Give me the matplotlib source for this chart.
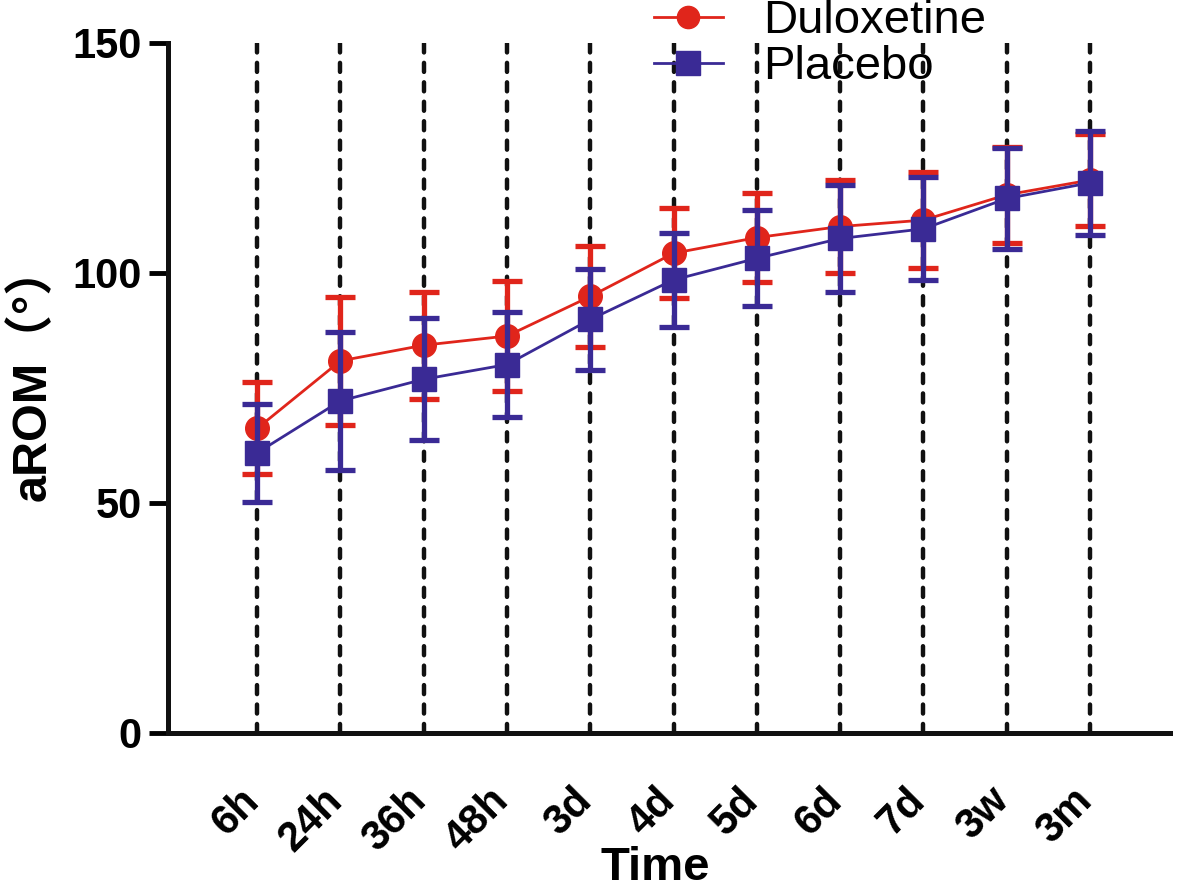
import matplotlib
matplotlib.use("Agg")
import matplotlib.pyplot as plt
from matplotlib.lines import Line2D
from matplotlib.transforms import ScaledTranslation
import numpy as np

plt.rcParams['font.family'] = ['Liberation Sans', 'Noto Sans CJK SC', 'DejaVu Sans']
plt.rcParams['lines.scale_dashes'] = False

time_labels = ["6h", "24h", "36h", "48h", "3d", "4d", "5d", "6d", "7d", "3w", "3m"]
dul_mean = [66.2, 80.9, 84.3, 86.3, 94.9, 104.3, 107.7, 110.1, 111.5, 117.0, 120.2]
dul_sd = [10.0, 13.9, 11.6, 12.0, 11.0, 9.8, 9.6, 10.1, 10.4, 10.4, 10.0]
pla_mean = [60.9, 72.2, 76.9, 80.1, 89.9, 98.5, 103.2, 107.5, 109.6, 116.2, 119.6]
pla_sd = [10.7, 15.0, 13.3, 11.4, 11.0, 10.3, 10.4, 11.6, 11.2, 10.9, 11.3]
y_ticks = [0, 50, 100, 150]

RED = '#e0251b'
BLUE = '#3a2a95'

fig = plt.figure(figsize=(11.79, 8.92), dpi=100)
ax = fig.add_axes([168/1179, 1-733/892, (1170-168)/1179, (733-43)/892])

x = np.arange(len(time_labels))

for xi in x:
    ax.axvline(xi, ymin=0, ymax=1, color='#111111', lw=3.2, dashes=(6.5, 7.5),
               dash_capstyle='round', zorder=1)

ax.errorbar(x, dul_mean, yerr=dul_sd, color=RED, marker='o', ms=17, lw=2,
            elinewidth=3.8, capsize=11, capthick=3.8, zorder=3)
ax.errorbar(x, pla_mean, yerr=pla_sd, color=BLUE, marker='s', ms=17, lw=2,
            elinewidth=3.8, capsize=11, capthick=3.8, zorder=4)

ax.set_xlim(-1.07, 10.96)
ax.set_ylim(0, 150)
ax.set_yticks(y_ticks)
ax.set_yticklabels([str(v) for v in y_ticks], fontsize=30, fontweight='bold')
ax.set_xticks(x)
ax.set_xticklabels(time_labels, fontsize=30, fontweight='bold', rotation=45,
                   ha='right', va='top')
ax.tick_params(axis='x', length=0, pad=34)
ax.tick_params(axis='y', length=14, width=3.5, pad=5, direction='out')
shift = ScaledTranslation(10/100, 0, fig.dpi_scale_trans)
for lab in ax.get_xticklabels():
    lab.set_transform(lab.get_transform() + shift)

for s in ['top', 'right']:
    ax.spines[s].set_visible(False)
for s in ['left', 'bottom']:
    ax.spines[s].set_linewidth(3.6)
    ax.spines[s].set_color('#111111')

ax.set_xlabel('Time', fontsize=34, fontweight='bold')
ax.xaxis.set_label_coords(0.486, -0.164)
ax.set_ylabel('aROM（°）', fontsize=35, fontweight='bold')
ax.yaxis.set_label_coords(-0.112, 0.522)

handles = [Line2D([], [], color=RED, marker='o', ms=16, lw=2),
           Line2D([], [], color=BLUE, marker='s', ms=17, lw=2)]
leg = fig.legend(handles, ['Duloxetine', 'Placebo'], loc='upper left',
                 bbox_to_anchor=(0.5547, 1.001), bbox_transform=fig.transFigure,
                 frameon=False, fontsize=34, handlelength=1.46, handletextpad=0.85,
                 labelspacing=0.05, borderpad=0.0, borderaxespad=0.0)

fig.savefig('out.png', dpi=100)
